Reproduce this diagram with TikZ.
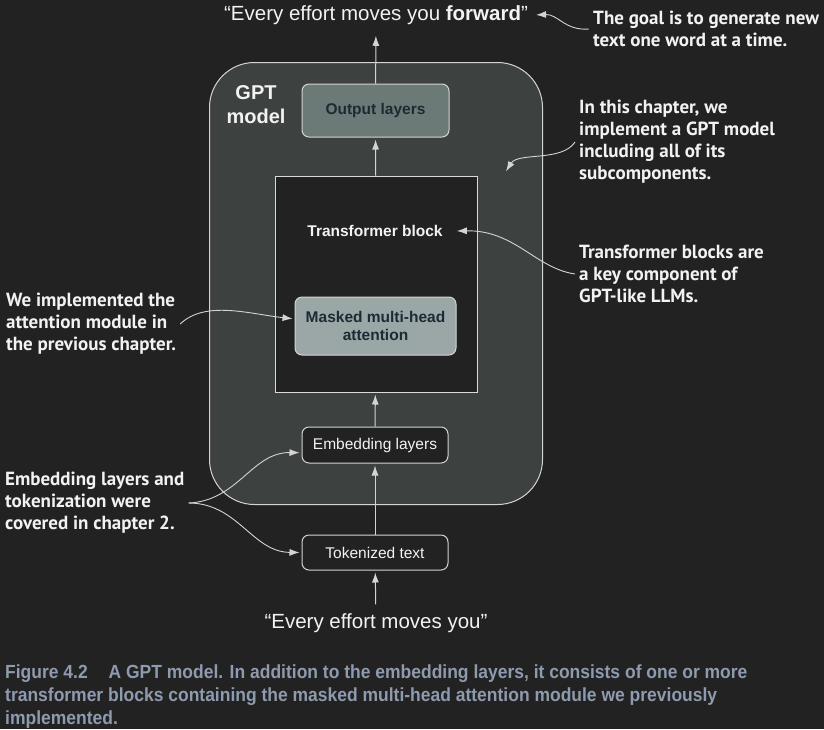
\documentclass[tikz,border=0pt]{standalone}
\usepackage{fontspec}
\usepackage{tikz}
\usetikzlibrary{arrows.meta,shapes}
\setmainfont{Liberation Sans}
\newfontfamily\notefont{PT Sans}
\newfontfamily\capfont[FakeStretch=0.92]{Liberation Sans}
\definecolor{bg}{HTML}{222222}
\definecolor{gptfill}{HTML}{3D4240}
\definecolor{outfill}{HTML}{6B7A76}
\definecolor{attnfill}{HTML}{9BA7A6}
\definecolor{edgecol}{HTML}{D4D4D4}
\definecolor{darktext}{HTML}{1E2A33}
\definecolor{notecol}{HTML}{F2F2F2}
\definecolor{capcol}{HTML}{8E9AAE}
\tikzstyle{layer}=[rectangle,rounded corners=7pt,draw=edgecol,line width=1pt,minimum width=146pt,text=notecol,font=\fontsize{15.5}{18}\selectfont]
\tikzstyle{sent}=[text=notecol,inner xsep=6pt,inner ysep=9pt,font=\fontsize{20.5}{24}\selectfont]
\tikzstyle{note}=[text=notecol,align=left,inner sep=4pt,font=\notefont\bfseries\fontsize{19}{22}\selectfont]
\tikzstyle{arr}=[draw=edgecol,line width=1pt,-{Latex[length=10pt,width=7pt]},shorten >=2pt]
\tikzstyle{noteedge}=[draw=edgecol,line width=0.9pt,-{Latex[length=10pt,width=7pt]},shorten >=2pt]

\begin{document}
\begin{tikzpicture}[x=1pt,y=-1pt]
        \fill[bg] (0,0) rectangle (824,729);
        \useasboundingbox (0,0) rectangle (824,729);

        % the model
        \node[rectangle,rounded corners=45pt,draw=edgecol,fill=gptfill,line width=1pt,minimum width=333pt,minimum height=442pt] (gpt) at (376,283.5) {};
        \node[text=notecol,align=center,font=\bfseries\fontsize{20}{24}\selectfont] (gptlbl) at (256,105) {GPT\\model};
        \node[layer,fill=outfill,minimum width=147pt,minimum height=53pt,text=darktext,font=\bfseries\fontsize{15.5}{18}\selectfont] (outl) at (375.5,110.5) {Output layers};
        \node[rectangle,draw=edgecol!85,fill=bg,line width=1pt,minimum width=202pt,minimum height=216pt] (tb) at (376,284) {};
        \node[text=notecol,inner xsep=12pt,font=\bfseries\fontsize{15.5}{18}\selectfont] (tblbl) at (375,231) {Transformer block};
        \node[layer,fill=attnfill,minimum width=161pt,minimum height=58pt,text=darktext,align=center,font=\bfseries\fontsize{15.5}{18}\selectfont] (attn) at (375.5,326) {Masked multi-head\\attention};
        \node[layer,fill=bg,minimum height=36pt] (emb) at (375,445) {Embedding layers};
        \node[layer,fill=bg,minimum height=35pt] (tok) at (375,552.5) {Tokenized text};

        % input and output text
        \node[sent] (inp) at (376,623) {“Every effort moves you”};
        \node[sent] (out) at (376,15) {“Every effort moves you \textbf{forward}”};
        \draw[arr] (inp) to (tok);
        \draw[arr] (tok) to (emb);
        \draw[arr] (emb) to (tb);
        \draw[arr] (tb) to (outl);
        \draw[arr] (outl) to (out);

        % notes
        \node[note,anchor=west] (goal) at (589,29) {The goal is to generate new\\text one word at a time.};
        \node[note,anchor=west] (chap) at (575,142) {In this chapter, we\\implement a GPT model\\including all of its\\subcomponents.};
        \node[note,anchor=west] (tbn) at (575,274) {Transformer blocks are\\a key component of\\GPT-like LLMs.};
        \node[note,anchor=west] (attnn) at (2,324) {We implemented the\\attention module in\\the previous chapter.};
        \node[note,anchor=west] (embn) at (1,503) {Embedding layers and\\tokenization were\\covered in chapter 2.};
        \coordinate (gptin) at (505,173);
        \draw[noteedge] (goal.west) .. controls (565,31) and (558,14) .. (out.east);
        \draw[noteedge] (chap.west) .. controls (562,162) and (518,152) .. (gptin);
        \draw[noteedge] (tbn.west) .. controls (535,268) and (515,230) .. (tblbl.east);
        \draw[noteedge] (attnn.east) .. controls (205,300) and (250,314) .. (attn.175);
        \draw[noteedge] (embn.east) .. controls (238,501) and (252,452) .. (emb.186);
        \draw[noteedge] (embn.east) .. controls (238,503) and (252,552) .. (tok.west);

        % caption
        \node[anchor=north west,text=capcol,align=left,inner sep=0pt,font=\capfont\bfseries\fontsize{19}{23}\selectfont] (cap) at (5,665) {Figure 4.2\hspace{1.1em}A GPT model. In addition to the embedding layers, it consists of one or more\\transformer blocks containing the masked multi-head attention module we previously\\implemented.};
      \end{tikzpicture}
\end{document}
